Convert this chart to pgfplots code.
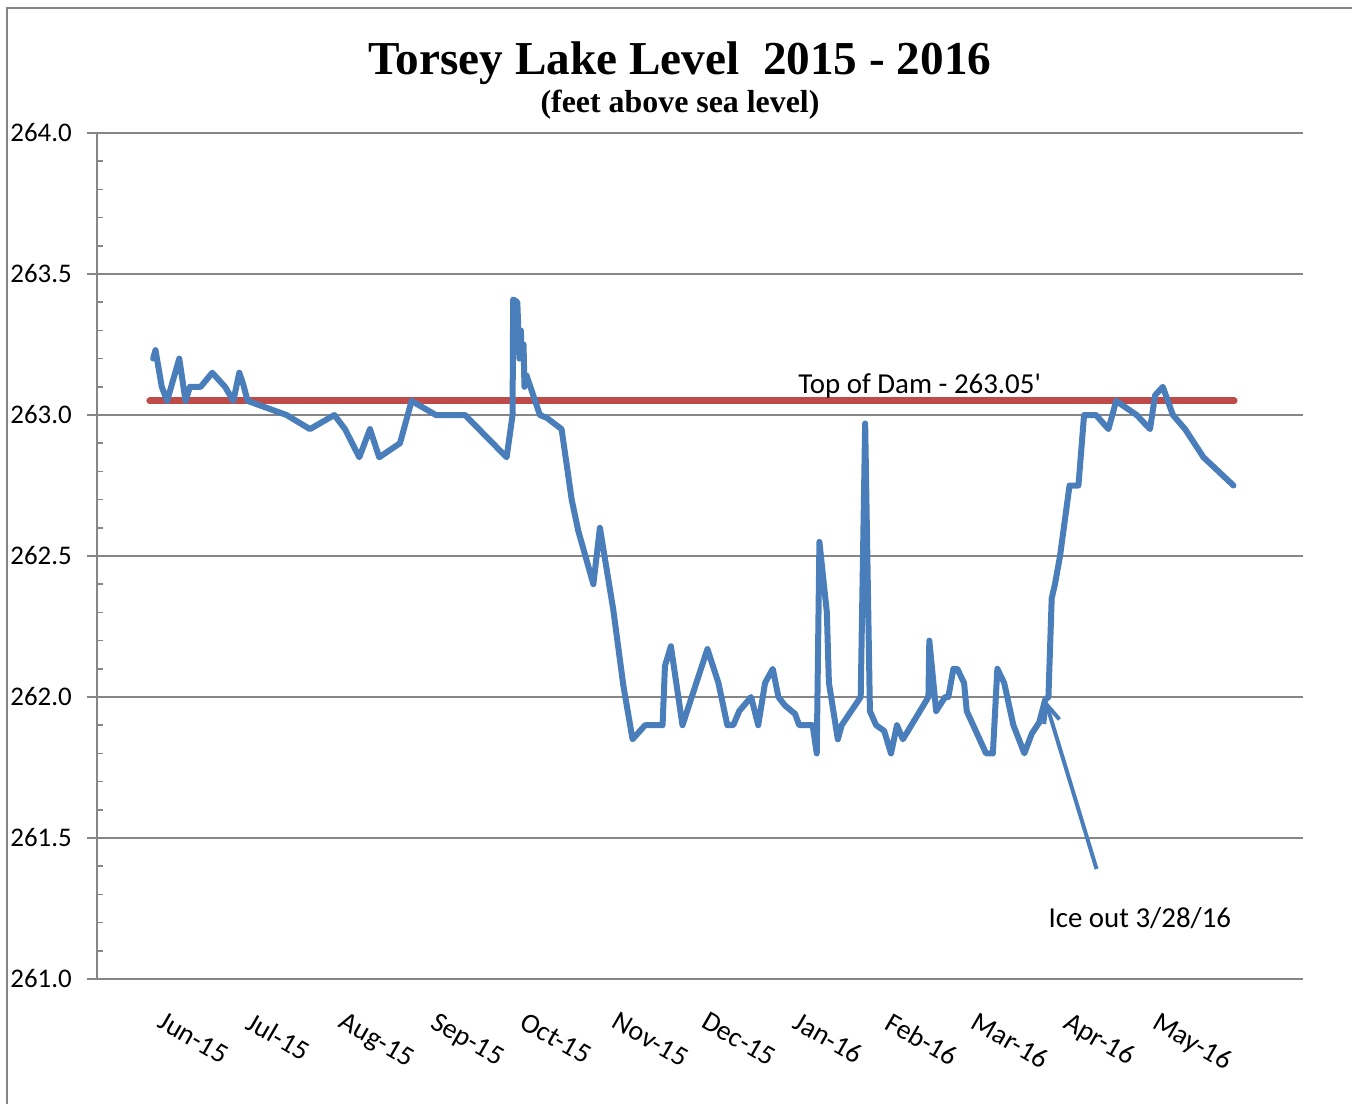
\documentclass[border=0pt]{standalone}
\usepackage{fontspec}
\setmainfont{Carlito}
\newfontfamily\titlefont{Liberation Serif}
\usepackage{pgfplots}
\pgfplotsset{compat=1.18}
\usetikzlibrary{arrows.meta}
\definecolor{xlblue}{HTML}{4A7EBB}
\definecolor{xlred}{HTML}{BE4B48}
\definecolor{xlgray}{HTML}{868686}
\begin{document}
\begin{tikzpicture}
\useasboundingbox (0,0) rectangle (676bp,-552bp);
\draw[xlgray, line width=1bp] (3.5bp,-552bp) -- (3.5bp,-4bp) -- (676bp,-4bp);
\node[anchor=base, inner sep=0pt, font=\titlefont\bfseries\fontsize{23.7}{26}\selectfont] at (340bp,-37bp) {Torsey Lake Level\ \ 2015 - 2016};
\node[anchor=base, inner sep=0pt, font=\titlefont\bfseries\fontsize{16}{18}\selectfont] at (340bp,-56bp) {(feet above sea level)};
\begin{axis}[
  at={(48.5bp,-489.5bp)}, anchor=south west,
  scale only axis, width=603bp, height=423bp,
  xmin=-19.5, xmax=386.5, ymin=261, ymax=264,
  axis lines*=left,
  axis line style={xlgray, line width=0.8bp},
  no markers,
  clip=false,
  scaled y ticks=false,
  ytick={261,261.5,262,262.5,263,263.5,264},
  /pgf/number format/fixed,
  /pgf/number format/fixed zerofill,
  /pgf/number format/precision=1,
  /pgf/number format/assume math mode=true,
  yticklabel style={font=\fontsize{13.5}{15}\selectfont, anchor=west, xshift=-38.5bp, inner xsep=0pt},
  tick align=outside,
  major tick length=5bp,
  y tick style={xlgray, line width=0.8bp},
  ymajorgrids,
  grid style={xlgray, line width=0.8bp},
  extra y ticks={261.1,261.2,261.3,261.4,261.6,261.7,261.8,261.9,262.1,262.2,262.3,262.4,262.6,262.7,262.8,262.9,263.1,263.2,263.3,263.4,263.6,263.7,263.8,263.9},
  extra y tick labels={},
  extra y tick style={grid=none, tick align=inside, major tick length=2.75bp},
  xtick={0,30,61,92,122,153,183,214,245,274,305,335},
  xticklabels={Jun-15,Jul-15,Aug-15,Sep-15,Oct-15,Nov-15,Dec-15,Jan-16,Feb-16,Mar-16,Apr-16,May-16},
  x tick style={draw=none},
  xticklabel style={font=\fontsize{14}{15}\selectfont, xshift=5.2bp, yshift=-10.9bp, rotate=-30, anchor=north west, inner sep=0pt},
]
\addplot[xlred, line width=3.5bp, line cap=round] coordinates {(-1.7,263.05) (363.3,263.05)};
\addplot[xlblue, line width=3bp, line join=round, line cap=round] table {
x y
-0.6 263.20
0.2 263.23
2.3 263.10
4.1 263.05
8.2 263.20
10.3 263.05
11.8 263.10
15.4 263.10
19.3 263.15
23.6 263.10
26.4 263.05
28.4 263.15
29.7 263.11
31.2 263.05
44.3 263.00
52.2 262.95
60.4 263.00
64.0 262.95
68.8 262.85
72.4 262.95
75.5 262.85
82.5 262.90
83.8 262.95
86.4 263.05
94.6 263.00
104.4 263.00
118.4 262.85
120.4 263.00
120.6 263.41
122.0 263.40
122.7 263.20
123.2 263.30
123.5 263.20
124.1 263.25
124.4 263.10
125.1 263.14
129.6 263.00
131.9 262.99
136.9 262.95
140.3 262.70
142.5 262.59
147.6 262.40
149.8 262.60
154.3 262.31
157.7 262.04
160.8 261.85
165.0 261.90
170.9 261.90
171.7 262.11
173.7 262.18
177.6 261.90
186.0 262.17
189.7 262.05
192.7 261.90
194.7 261.90
196.7 261.95
200.7 262.00
203.1 261.90
205.4 262.05
208.0 262.10
209.9 262.00
212.1 261.97
215.5 261.94
216.9 261.90
221.4 261.90
222.8 261.80
223.7 262.55
226.2 262.30
226.9 262.05
229.9 261.85
231.2 261.90
237.6 262.00
239.1 262.97
240.7 261.95
242.8 261.90
245.5 261.88
247.8 261.80
249.8 261.90
251.8 261.85
260.4 262.00
260.7 262.20
263.0 261.95
266.0 262.00
267.1 262.00
268.8 262.10
270.1 262.10
272.4 262.05
273.3 261.95
279.8 261.80
282.1 261.80
283.6 262.10
285.9 262.05
289.0 261.90
292.7 261.80
295.2 261.87
297.7 261.91
299.7 261.99
300.8 262.00
301.9 262.35
303.0 262.40
304.7 262.50
307.9 262.75
310.9 262.75
312.8 263.00
316.8 263.00
321.0 262.95
323.6 263.05
330.5 263.00
335.0 262.95
336.7 263.07
339.3 263.10
342.7 263.00
346.8 262.95
353.0 262.85
363.1 262.75
};
\addplot[xlblue, line width=2bp, -{Straight Barb[length=9bp,width=8bp]}] coordinates {(317.0,261.39) (299.7,261.99)};
\node[anchor=base west, inner sep=0pt, font=\fontsize{14.5}{16}\selectfont] at (axis cs:216.5,263.078) {Top of Dam - 263.05\textquotesingle};
\node[anchor=base west, inner sep=0pt, font=\fontsize{14.5}{16}\selectfont] at (axis cs:300.7,261.184) {Ice out 3/28/16};
\end{axis}
\end{tikzpicture}
\end{document}
